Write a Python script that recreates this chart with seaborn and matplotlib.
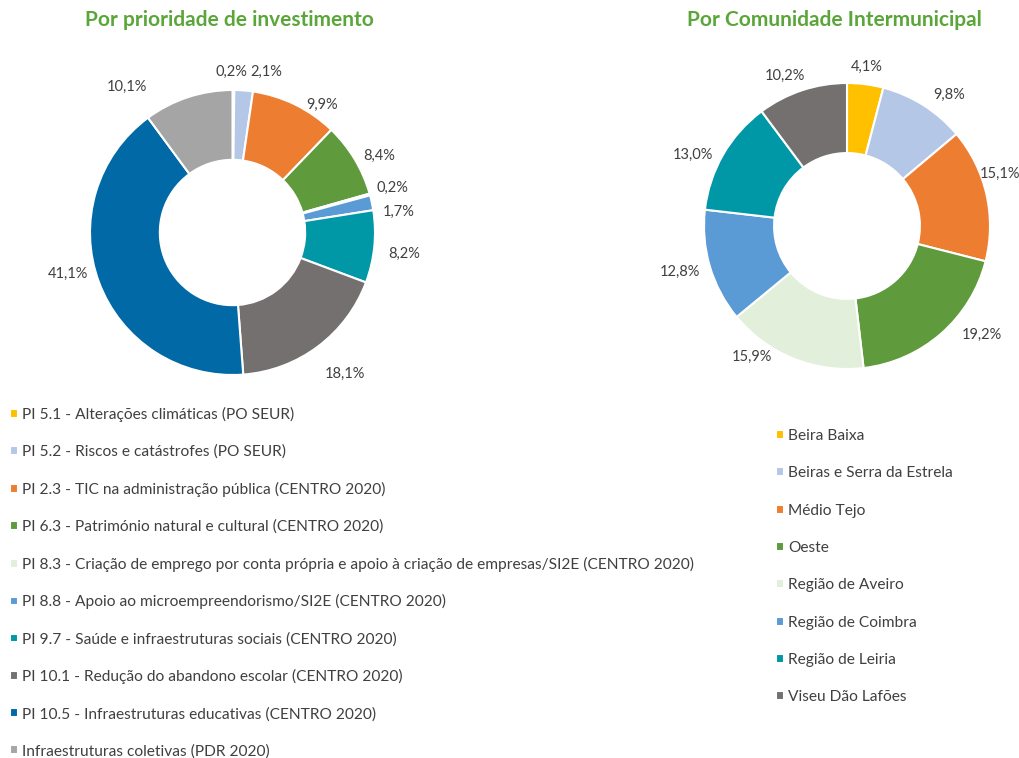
import numpy as np
import matplotlib
matplotlib.use("Agg")
import matplotlib.pyplot as plt
import seaborn as sns

# data
prioridades = ["PI 5.1 - Alterações climáticas (PO SEUR)",
               "PI 5.2 - Riscos e catástrofes (PO SEUR)",
               "PI 2.3 - TIC na administração pública (CENTRO 2020)",
               "PI 6.3 - Património natural e cultural (CENTRO 2020)",
               "PI 8.3 - Criação de emprego por conta própria e apoio à criação de empresas/SI2E (CENTRO 2020)",
               "PI 8.8 - Apoio ao microempreendorismo/SI2E (CENTRO 2020)",
               "PI 9.7 - Saúde e infraestruturas sociais (CENTRO 2020)",
               "PI 10.1 - Redução do abandono escolar (CENTRO 2020)",
               "PI 10.5 - Infraestruturas educativas (CENTRO 2020)",
               "Infraestruturas coletivas (PDR 2020)"]
prioridades_pct = [0.2, 2.1, 9.9, 8.4, 0.2, 1.7, 8.2, 18.1, 41.1, 10.1]

comunidades = ["Beira Baixa", "Beiras e Serra da Estrela", "Médio Tejo", "Oeste",
               "Região de Aveiro", "Região de Coimbra", "Região de Leiria", "Viseu Dão Lafões"]
comunidades_pct = [4.1, 9.8, 15.1, 19.2, 15.9, 12.8, 13.0, 10.2]

cores = ["#FFC000", "#B4C7E7", "#ED7D31", "#5F9A3C", "#E2EFDA",
         "#5B9BD5", "#0097A7", "#757070", "#0069A6", "#A5A5A5"]

# label nudges (px, x right / y down) to mimic excel "best fit" placement
nudge_esq = [(0, 0), (0, 0), (16, 22), (0, 11), (-5, 1), (-1, 15), (2, 4), (11, 6), (-4, -18), (-54, 12)]
nudge_dir = [(-1, 3), (12, 12), (-14, -14), (23, -19), (-33, -24), (-3, -3), (-5, 15), (-10, 7)]

sns.set_theme(style="white")
plt.rcParams["font.family"] = ["Lato", "DejaVu Sans"]
txt_cor = "#404040"
verde = "#5BA63A"

W, H = 1019, 758
fig = plt.figure(figsize=(W / 100, H / 100), dpi=100)


def donut(cx, cy, r, valores, paleta, titulo, tx, nudges):
    ax = fig.add_axes([(cx - r) / W, 1 - (cy + r) / H, 2 * r / W, 2 * r / H])
    wedges, _ = ax.pie(valores, colors=sns.color_palette(paleta), startangle=90,
                       counterclock=False, radius=1,
                       wedgeprops=dict(width=0.49, edgecolor="white", linewidth=1.5))
    ax.set_xlim(-1, 1)
    ax.set_ylim(-1, 1)
    ax.set_aspect("equal")
    ax.axis("off")
    rotulos = []
    for w, v, (nx, ny) in zip(wedges, valores, nudges):
        ang = np.deg2rad((w.theta1 + w.theta2) / 2)
        c, s = np.cos(ang), np.sin(ang)
        off = 1.07 + (17 * abs(c) + 8 * abs(s)) / r
        rotulos.append(ax.text(off * c + nx / r, off * s - ny / r,
                               f"{v:.1f}%".replace(".", ","), ha="center", va="center",
                               fontsize=10.5, color=txt_cor))
    fig.text(tx / W, 1 - 20 / H, titulo, ha="center", va="center", fontsize=15,
             fontweight="bold", color=verde)
    return ax, wedges, rotulos


ax1, w1, r1 = donut(232.5, 232.5, 142.5, prioridades_pct, cores,
                    "Por prioridade de investimento", 229, nudge_esq)
ax2, w2, r2 = donut(847, 226, 143, comunidades_pct, cores[:8],
                    "Por Comunidade Intermunicipal", 834, nudge_dir)

# the two tiny labels at the top of the left donut sit side by side
y_top = (232.5 - 72) / 142.5
r1[0].set_ha("right"); r1[0].set_position((14.5 / 142.5, y_top))
r1[1].set_ha("left"); r1[1].set_position((18 / 142.5, y_top))

leg_kw = dict(frameon=False, loc="upper left", handlelength=0.5,
              handleheight=0.5, handletextpad=0.3,
              borderpad=0, borderaxespad=0, labelcolor=txt_cor,
              prop=dict(family=["Lato", "DejaVu Sans"], size=11.2))
fig.legend(w1, prioridades, bbox_to_anchor=(10 / W, 1 - 407 / H), labelspacing=1.46, **leg_kw)
fig.legend(w2, comunidades, bbox_to_anchor=(776 / W, 1 - 429 / H), labelspacing=1.5, **leg_kw)

fig.savefig("out.png", dpi=100, facecolor="white")
